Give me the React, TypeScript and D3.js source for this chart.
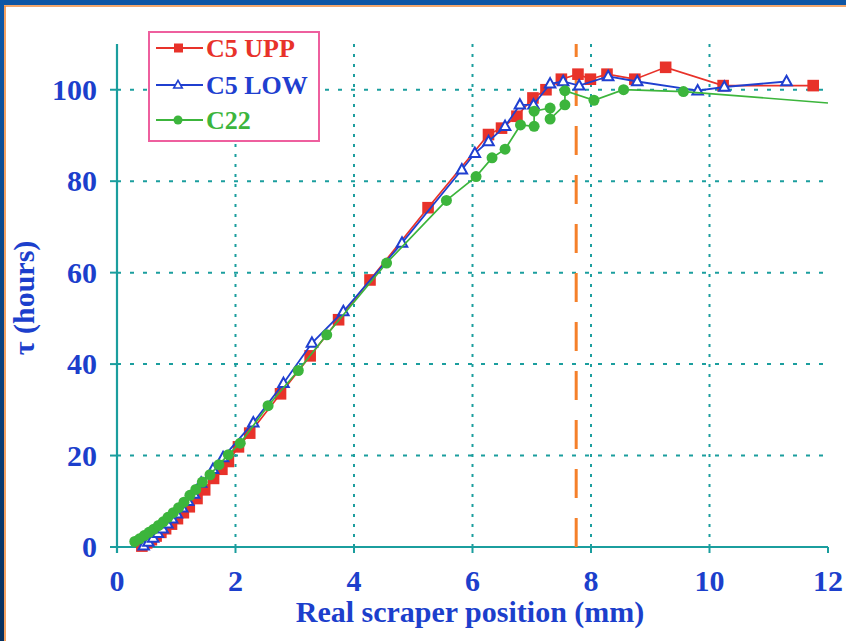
import React from "react";
import * as d3 from "d3";

const upperX = [0.42,0.50,0.58,0.66,0.74,0.82,0.92,1.02,1.12,1.22,1.35,1.48,1.63,1.77,1.88,2.05,2.24,2.76,3.26,3.74,4.27,5.25,6.27,6.49,6.75,7.02,7.24,7.50,7.78,7.99,8.27,8.74,9.26,10.23,11.75];
const upperY = [0.2,0.9,1.6,2.4,3.2,4.0,5.0,6.2,7.5,8.8,10.6,12.5,15.0,17.0,18.7,21.9,24.9,33.5,41.8,49.7,58.4,74.2,90.2,91.6,94.2,98.2,100.0,102.3,103.4,102.3,103.4,102.3,104.9,100.9,100.9];

const lowerX = [0.45,0.53,0.61,0.69,0.77,0.85,0.93,1.01,1.10,1.20,1.30,1.42,1.62,1.79,2.30,2.81,3.29,3.82,4.81,5.82,6.04,6.27,6.55,6.80,7.03,7.31,7.53,7.80,8.29,8.78,9.80,10.25,11.30];
const lowerY = [0.3,1.1,2.0,3.0,4.0,5.1,6.2,7.3,8.6,10.0,11.6,14.0,17.0,19.6,27.2,35.8,44.6,51.5,66.5,82.5,86.1,88.7,92.0,96.7,96.7,101.3,101.8,100.9,102.9,101.8,99.8,100.6,101.8];

const c22X = [0.30,0.38,0.46,0.54,0.62,0.70,0.78,0.86,0.95,1.04,1.13,1.23,1.33,1.44,1.57,1.72,1.88,2.08,2.55,3.06,3.54,4.55,5.56,6.06,6.33,6.55,6.81,7.04,7.04,7.31,7.31,7.56,7.56,8.05,8.55,9.56,12.0];
const c22Y = [1.2,1.8,2.5,3.2,3.9,4.7,5.5,6.5,7.5,8.6,9.8,11.3,12.6,14.2,15.8,18.0,20.2,22.7,30.9,38.6,46.4,62.1,75.8,81.0,85.1,87.0,92.3,92.0,95.3,96.0,93.6,96.7,99.8,97.7,100.0,99.6,97.1];

const xTicks = [0, 2, 4, 6, 8, 10, 12];
const yTicks = [0, 20, 40, 60, 80, 100];
const xGrid = [2, 4, 6, 8, 10];
const yGrid = [20, 40, 60, 80, 100];
const markerLineX = 7.75;

const seriesNames = ["C5 UPP", "C5 LOW", "C22"];

const W = 846, H = 641;
const RED = "#e8322a";
const BLUE = "#1f3fd0";
const GREEN = "#3cb53c";
const TEAL = "#1b9e9e";
const TEXTBLUE = "#1c3fcc";
const FONT = "'Liberation Serif', 'Times New Roman', serif";

export default function App() {
  const x = d3.scaleLinear().domain([0, 12]).range([117, 828]);
  const y = d3.scaleLinear().domain([0, 110]).range([547, 44]);
  const line = d3.line<[number, number]>().x(d => x(d[0])).y(d => y(d[1]));
  const zip = (a: number[], b: number[]) => a.map((v, i) => [v, b[i]] as [number, number]);
  const upper = zip(upperX, upperY);
  const lower = zip(lowerX, lowerY);
  const c22 = zip(c22X, c22Y);
  const tri = (cx: number, cy: number, s: number) => {
    const h = s * 0.9;
    return `M${cx},${cy - h * 0.6}L${cx + s / 2},${cy + h * 0.4}L${cx - s / 2},${cy + h * 0.4}Z`;
  };
  const top = y(110);
  const bottom = y(0);

  const legendRows = [48, 85, 120];

  return (
    <svg width={W} height={H} style={{ position: "absolute", left: 0, top: 0 }} fontFamily={FONT}>
      <defs>
        <linearGradient id="lb" x1="0" y1="0" x2="0" y2="1">
          <stop offset="0" stopColor="#0e58a8" />
          <stop offset="1" stopColor="#07305e" />
        </linearGradient>
      </defs>
      <rect x={0} y={0} width={W} height={H} fill="#ffffff" />
      <rect x={0} y={0} width={W} height={5} fill="#0e56a4" />
      <rect x={0} y={0} width={4} height={H} fill="url(#lb)" />
      <line x1={4} y1={6} x2={W} y2={6} stroke="#f08a3a" strokeWidth={1.6} />
      <line x1={5} y1={6} x2={5} y2={H} stroke="#f08a3a" strokeWidth={1.6} />

      {/* grid */}
      {xGrid.map(v => (
        <line key={"gx" + v} x1={x(v)} x2={x(v)} y1={top} y2={bottom} stroke={TEAL} strokeWidth={2} strokeDasharray="3,7" />
      ))}
      {yGrid.map(v => (
        <line key={"gy" + v} x1={x(0)} x2={x(12)} y1={y(v)} y2={y(v)} stroke={TEAL} strokeWidth={2} strokeDasharray="4,9" />
      ))}

      {/* axes */}
      <line x1={110} x2={x(12)} y1={bottom} y2={bottom} stroke={TEAL} strokeWidth={2.2} />
      <line x1={x(0)} x2={x(0)} y1={top} y2={bottom + 6} stroke={TEAL} strokeWidth={2.2} />
      {xTicks.map(v => (
        <line key={"tx" + v} x1={x(v)} x2={x(v)} y1={bottom} y2={bottom + 6} stroke={TEAL} strokeWidth={2} />
      ))}
      {yTicks.map(v => (
        <line key={"ty" + v} x1={x(0) - 7} x2={x(0)} y1={y(v)} y2={y(v)} stroke={TEAL} strokeWidth={2} />
      ))}
      {xTicks.map(v => (
        <text key={"lx" + v} x={x(v)} y={591} textAnchor="middle" fontSize={30} fontWeight="bold" fill={TEXTBLUE}>{v}</text>
      ))}
      {yTicks.map(v => (
        <text key={"ly" + v} x={97} y={y(v) + 10} textAnchor="end" fontSize={30} fontWeight="bold" fill={TEXTBLUE}>{v}</text>
      ))}
      <text x={470} y={622} textAnchor="middle" fontSize={30} fontWeight="bold" fill={TEXTBLUE}>Real scraper position (mm)</text>
      <text transform="translate(34,298) rotate(-90)" textAnchor="middle" fontSize={30} fontWeight="bold" fill={TEXTBLUE}>τ (hours)</text>

      {/* vertical orange dashed line, drawn bottom-up */}
      <line x1={x(markerLineX)} x2={x(markerLineX)} y1={bottom} y2={top} stroke="#f5802a" strokeWidth={3} strokeDasharray="29,20" />

      {/* series */}
      <path d={line(upper) || ""} fill="none" stroke={RED} strokeWidth={1.7} />
      {upper.map((d, i) => (
        <rect key={"u" + i} x={x(d[0]) - 5.8} y={y(d[1]) - 5.8} width={11.6} height={11.6} fill={RED} />
      ))}
      <path d={line(lower) || ""} fill="none" stroke={BLUE} strokeWidth={1.8} />
      {lower.map((d, i) => (
        <path key={"l" + i} d={tri(x(d[0]), y(d[1]), 10.5)} fill="#ffffff" stroke={BLUE} strokeWidth={2} />
      ))}
      <path d={line(c22) || ""} fill="none" stroke={GREEN} strokeWidth={1.7} />
      {c22.filter(d => d[0] < 12).map((d, i) => (
        <circle key={"c" + i} cx={x(d[0])} cy={y(d[1])} r={5.5} fill={GREEN} />
      ))}

      {/* legend */}
      <rect x={149} y={32} width={170} height={109} fill="#ffffff" stroke="#ee5f9e" strokeWidth={2} />
      {seriesNames.map((name, i) => {
        const cy = legendRows[i];
        const col = [RED, BLUE, GREEN][i];
        return (
          <g key={name}>
            <line x1={156} x2={203} y1={cy} y2={cy} stroke={col} strokeWidth={1.8} />
            {i === 0 && <rect x={174} y={cy - 4.5} width={9} height={9} fill={RED} />}
            {i === 1 && <path d={tri(178, cy, 8.5)} fill="#ffffff" stroke={BLUE} strokeWidth={1.6} />}
            {i === 2 && <circle cx={178} cy={cy} r={4.5} fill={GREEN} />}
            <text x={206} y={cy + 9} fontSize={26} fontWeight="bold" fill={col}>{name}</text>
          </g>
        );
      })}
    </svg>
  );
}
